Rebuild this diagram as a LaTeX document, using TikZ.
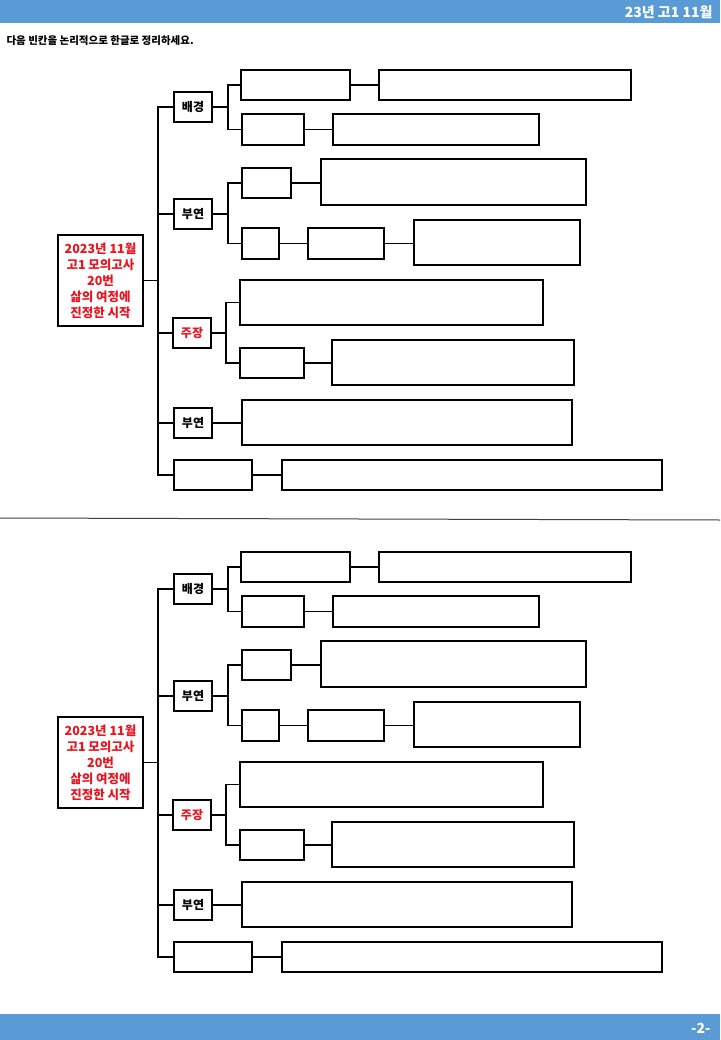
\documentclass[tikz,border=0pt]{standalone}
\usepackage{fontspec}
\setmainfont{Noto Sans CJK KR}
\newfontfamily\kr{Noto Sans CJK KR}
\definecolor{barblue}{HTML}{5B9BD5}
\definecolor{txtred}{HTML}{E8141E}
\tikzset{
  bx/.style={draw=black, line width=1.5pt, fill=white, inner sep=0pt},
  lab/.style={font=\kr\bfseries\fontsize{12}{14}\selectfont},
  conn/.style={draw=black, line width=1.5pt},
}
% \bx{name}{x1}{y1}{x2}{y2}{style}{text}
\newcommand{\mybx}[7]{%
  \node[bx,#6,minimum width={(#4-#2)*1pt},minimum height={(#5-#3)*1pt}] (#1) at ({(#2+#4)/2},{(#3+#5)/2}) {#7};}
\begin{document}
\begin{tikzpicture}[x=1pt,y=-1pt]
\useasboundingbox (0,0) rectangle (720,1040);
\fill[white] (0,0) rectangle (720,1040);
% header / footer
\fill[barblue] (0,0) rectangle (720,23);
\node[anchor=east, text=white, font=\kr\bfseries\fontsize{14}{16}\selectfont] (hdr) at (716,12) {23년 고1 11월};
\fill[barblue] (0,1014) rectangle (720,1040);
\node[anchor=east, text=white, font=\kr\bfseries\fontsize{14}{16}\selectfont] (ftr) at (714,1028) {-2-};
\node[anchor=west, font=\kr\bfseries\fontsize{10.5}{12}\selectfont] (instr) at (3,41) {다음 빈칸을 논리적으로 한글로 정리하세요.};
% separator
\coordinate (sepL) at (0,518);
\coordinate (sepR) at (720,520);
\draw[line width=1pt, black!75] (sepL) -- (sepR);
\foreach \h/\off in {a/0,b/482}{
\begin{scope}[yshift=-\off pt]
  % root
  \mybx{root\h}{58}{235}{143}{326}{align=center, text=txtred, font=\kr\bfseries\fontsize{12.5}{16}\selectfont}{2023년 11월\\고1 모의고사\\20번\\삶의 여정에\\진정한 시작}
  % labels
  \mybx{l1\h}{174}{92}{212}{122}{lab}{배경}
  \mybx{l2\h}{174}{199}{212}{229}{lab}{부연}
  \mybx{l3\h}{173}{318}{211}{348}{lab, text=txtred}{주장}
  \mybx{l4\h}{174}{408}{212}{438}{lab}{부연}
  \mybx{l5\h}{174}{460}{252}{490}{}{}
  % 배경 children
  \mybx{a1\h}{241}{70}{350}{100}{}{}
  \mybx{a2\h}{379}{70}{631}{100}{}{}
  \mybx{a3\h}{242}{114}{304}{145}{}{}
  \mybx{a4\h}{333}{114}{539}{145}{}{}
  % 부연 children
  \mybx{b1\h}{242}{168}{291}{198}{}{}
  \mybx{b2\h}{321}{159}{586}{205}{}{}
  \mybx{b3\h}{242}{228}{279}{259}{}{}
  \mybx{b4\h}{308}{228}{384}{259}{}{}
  \mybx{b5\h}{414}{220}{580}{265}{}{}
  % 주장 children
  \mybx{c1\h}{240}{280}{543}{325}{}{}
  \mybx{c2\h}{240}{348}{304}{378}{}{}
  \mybx{c3\h}{332}{340}{574}{385}{}{}
  % 부연 2
  \mybx{d1\h}{242}{400}{572}{445}{}{}
  % bottom
  \mybx{e1\h}{282}{460}{662}{490}{}{}
  % junctions
  \coordinate (tj\h) at (158,280.5);
  \coordinate (ja\h) at (228,107);
  \coordinate (jb\h) at (228,214);
  \coordinate (jc\h) at (226,333);
  % trunk
  \draw[conn] (root\h.east) -- (tj\h);
  \draw[conn] (l1\h.west) -| (tj\h) |- (l5\h.west);
  \draw[conn] (l2\h.west) -- (l2\h.west -| tj\h);
  \draw[conn] (l3\h.west) -- (l3\h.west -| tj\h);
  \draw[conn] (l4\h.west) -- (l4\h.west -| tj\h);
  % 배경
  \draw[conn] (l1\h.east) -- (ja\h);
  \draw[conn] (a1\h.west) -| (ja\h) |- (a3\h.west);
  \draw[conn] (a1\h.east) -- (a2\h.west);
  \draw[conn] (a3\h.east) -- (a4\h.west);
  % 부연
  \draw[conn] (l2\h.east) -- (jb\h);
  \draw[conn] (b1\h.west) -| (jb\h) |- (b3\h.west);
  \draw[conn] (b1\h.east) -- (b1\h.east -| b2\h.west);
  \draw[conn] (b3\h.east) -- (b4\h.west);
  \draw[conn] (b4\h.east) -- (b4\h.east -| b5\h.west);
  % 주장
  \draw[conn] (l3\h.east) -- (jc\h);
  \draw[conn] (c1\h.west) -| (jc\h) |- (c2\h.west);
  \draw[conn] (c2\h.east) -- (c2\h.east -| c3\h.west);
  % 부연 2
  \draw[conn] (l4\h.east) -- (l4\h.east -| d1\h.west);
  % bottom
  \draw[conn] (l5\h.east) -- (e1\h.west);
\end{scope}
}
\end{tikzpicture}
\end{document}
